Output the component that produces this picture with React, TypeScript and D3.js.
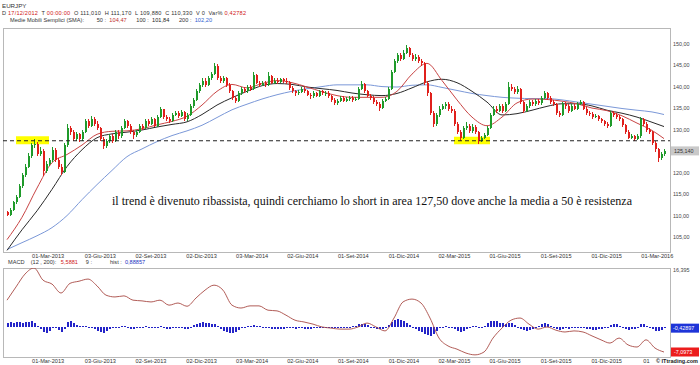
import React from "react";
import * as d3 from "d3";

// ---------- DATA ----------
const opens = [
  111.0,110.3,111.5,113.2,114.5,117,119.5,121.5,124,126.5,
  126.8,124.5,125.2,120.5,122.2,123,125.3,123,121.5,120.3,
  126.5,130.5,129.5,128,129,127.8,129.5,132,131,132.5,
  131.5,130.5,128,126.2,127.5,128.5,127.5,129.5,128.5,130.5,
  132,131,129.5,128.8,129.5,131,130.5,132,131.5,132.5,
  131,133,134.8,133,132.5,132,133.5,134,133.2,134.2,
  132.5,133.5,135.5,137,139,140.5,141.5,140.5,142,143,
  145,142,141.5,142,140.5,139,137.5,136.8,138.5,139.5,
  139,140,139.5,142.8,141,140.5,141,140.5,142.5,141,
  141.5,141.2,141.8,141.5,141.2,139.8,139,138.5,138.8,139.5,
  139,138.2,137.8,138.5,138,139,138.5,138.6,137.8,137,
  136.2,136.8,137.5,136.8,137.2,137.4,137,137.2,139.5,140.8,
  139,138,137.5,136.5,136,135.2,136.8,137.2,139.5,143.5,
  146,147.5,146.5,148,149,147.5,146.5,147,146,145.5,
  141,138.5,134,131.5,133.5,135,135.5,136,135,134.5,
  131.5,129.5,128.2,130.5,131,129.8,130.8,129.5,127.5,128.2,
  128.8,130.5,133.5,135,134.5,135.5,134.5,136,140,139.5,
  138.8,139.5,136.5,134.5,135.5,136.5,136,136.8,136.2,137.5,
  138.5,137.5,136.5,136,134,133.5,136,135.5,134.5,135.5,
  135,136,136.5,135,134,133.8,133,133.2,132.5,132,
  131.5,131,134,133.5,133,132.5,131.2,129.5,128.2,128.5,
  128,128.5,132.5,131.5,130,129.5,127,125.5,123.5,124.5
];
const highs = [
  111.2,111.8,113.6,115.0,117.4,120.0,122.0,124.6,127.0,128.0,
  127.2,126.0,125.6,122.8,123.6,126.0,125.8,123.4,122.0,127.0,
  131.3,131.0,130.0,129.6,129.4,130.0,132.6,132.5,133.2,133.0,
  132.0,130.8,128.4,128.0,129.0,129.0,130.0,130.0,131.0,132.5,
  132.4,131.4,130.0,130.0,131.5,131.5,132.5,132.5,133.0,132.8,
  133.5,135.3,135.0,133.5,133.0,134.0,134.5,134.4,134.7,134.5,
  134.0,136.0,137.5,139.5,141.0,142.0,142.0,142.5,143.5,145.6,
  145.3,142.5,142.5,142.3,141.0,139.4,138.0,139.0,140.0,140.0,
  140.5,140.4,143.6,143.0,141.5,141.5,141.4,143.5,142.8,142.0,
  142.0,142.2,142.2,142.0,141.5,140.2,139.4,139.2,140.0,140.0,
  139.4,138.6,139.0,138.9,139.4,139.4,139.0,139.0,138.2,137.4,
  137.2,137.9,137.9,137.6,137.8,137.8,137.6,140.0,141.5,141.0,
  139.4,138.4,137.9,137.0,136.4,137.2,137.7,140.0,144.0,146.6,
  148.0,148.0,148.6,149.8,149.3,148.0,147.6,147.4,146.5,145.8,
  141.4,138.8,134.4,134.0,135.5,136.0,136.5,136.4,135.5,134.8,
  131.8,130.0,131.0,131.8,131.4,131.4,131.2,129.8,128.7,129.3,
  131.0,134.0,135.6,135.5,136.0,136.0,136.5,141.2,140.6,140.0,
  140.2,139.8,136.8,136.0,137.0,137.0,137.3,137.2,138.0,139.0,
  138.9,137.9,137.0,136.3,134.5,136.5,136.5,136.0,136.0,136.0,
  136.5,137.0,136.8,135.4,134.5,134.2,133.7,133.6,132.9,132.4,
  131.9,134.5,134.5,134.0,133.4,132.9,131.5,129.9,129.0,128.9,
  129.0,133.0,132.9,131.9,130.4,129.8,127.4,125.9,125.0,125.6
];
const lows = [
  109.9,110.0,111.2,112.8,114.2,116.6,119.0,121.2,123.6,125.8,
  124.0,124.0,119.4,120.0,121.6,122.6,122.5,121.0,119.5,120.0,
  126.0,128.8,127.4,127.5,127.2,127.4,129.2,130.5,130.7,131.0,
  130.0,127.5,125.5,125.8,127.0,127.0,127.2,128.0,128.2,130.2,
  130.5,129.0,128.0,128.4,129.2,130.0,130.2,131.0,131.2,130.6,
  130.8,132.8,132.6,132.0,131.6,131.8,133.2,132.8,133.0,132.0,
  132.2,133.2,135.2,136.7,138.7,140.0,140.0,140.2,141.7,142.7,
  141.6,141.0,141.0,140.0,138.5,137.0,136.3,136.5,138.2,138.5,
  138.7,139.0,139.2,140.6,140.0,140.2,140.0,140.2,140.6,140.7,
  140.8,140.9,141.0,140.8,139.4,138.6,138.0,138.1,138.5,138.6,
  137.8,137.3,137.5,137.6,137.7,138.1,138.0,137.4,136.6,135.8,
  135.9,136.5,136.4,136.4,136.8,136.6,136.7,137.0,139.2,138.6,
  137.6,137.0,136.0,135.5,134.5,135.0,136.4,137.0,139.2,143.2,
  145.6,146.0,146.2,147.6,147.0,146.0,146.0,145.5,145.0,140.5,
  138.0,133.5,130.6,131.0,133.0,134.6,135.0,134.5,134.0,131.0,
  129.0,127.4,127.8,130.0,129.3,129.4,129.0,126.7,127.2,127.8,
  128.5,130.2,133.2,134.0,134.2,134.0,134.2,135.8,139.0,138.3,
  138.4,136.0,134.0,134.2,135.2,135.5,135.6,135.8,135.9,137.2,
  137.0,136.0,135.5,133.6,133.0,133.2,135.0,134.0,134.2,134.6,
  134.7,135.7,134.6,133.6,133.3,132.6,132.7,132.0,131.6,131.0,
  130.5,130.8,133.0,132.6,132.0,130.8,129.0,127.8,127.8,127.5,
  127.6,128.2,131.0,129.6,129.0,126.5,125.0,122.6,123.0,124.0
];
const closes = [
  110.3,111.5,113.2,114.5,117,119.5,121.5,124,126.5,126.8,
  124.5,125.2,120.5,122.2,123,125.3,123,121.5,120.3,126.5,
  130.5,129.5,128,129,127.8,129.5,132,131,132.5,131.5,
  130.5,128,126.2,127.5,128.5,127.5,129.5,128.5,130.5,132,
  131,129.5,128.8,129.5,131,130.5,132,131.5,132.5,131,
  133,134.8,133,132.5,132,133.5,134,133.2,134.2,132.5,
  133.5,135.5,137,139,140.5,141.5,140.5,142,143,145,
  142,141.5,142,140.5,139,137.5,136.8,138.5,139.5,139,
  140,139.5,142.8,141,140.5,141,140.5,142.5,141,141.5,
  141.2,141.8,141.5,141.2,139.8,139,138.5,138.8,139.5,139,
  138.2,137.8,138.5,138,139,138.5,138.6,137.8,137,136.2,
  136.8,137.5,136.8,137.2,137.4,137,137.2,139.5,140.8,139,
  138,137.5,136.5,136,135.2,136.8,137.2,139.5,143.5,146,
  147.5,146.5,148,149,147.5,146.5,147,146,145.5,141,
  138.5,134,131.5,133.5,135,135.5,136,135,134.5,131.5,
  129.5,128.2,130.5,131,129.8,130.8,129.5,127.5,128.2,128.8,
  130.5,133.5,135,134.5,135.5,134.5,136,140,139.5,138.8,
  139.5,136.5,134.5,135.5,136.5,136,136.8,136.2,137.5,138.5,
  137.5,136.5,136,134,133.5,136,135.5,134.5,135.5,135,
  136,136.5,135,134,133.8,133,133.2,132.5,132,131.5,
  131,134,133.5,133,132.5,131.2,129.5,128.2,128.5,128,
  128.5,132.5,131.5,130,129.5,127,125.5,123.5,124.5,125.14
];

const maIndex = [0,5,10,15,20,25,30,35,40,45,50,55,60,65,70,75,80,85,90,95,100,105,110,115,120,125,130,135,140,145,150,155,160,165,170,175,180,185,190,195,200,205,210,215,219];
const sma50 = [104.5,109.7,116.5,122.4,124.3,126.5,129.0,129.7,129.8,130.3,131.2,132.0,133.2,135.8,139.0,140.6,139.8,140.8,141.5,141.0,140.0,138.9,138.0,137.6,137.6,137.6,139.0,143.0,145.5,141.5,137.0,133.0,131.0,133.0,136.3,137.2,137.1,136.7,136.1,135.1,134.5,133.3,131.6,129.9,128.0];
const sma100 = [102.0,106.8,111.2,116.2,121.5,125.4,128.2,129.1,129.5,130.0,130.7,131.3,131.9,133.6,135.8,137.5,139.0,140.3,140.8,140.6,140.0,139.6,139.2,138.6,138.2,138.0,138.5,139.8,141.2,141.8,141.0,139.0,136.5,133.5,133.8,134.6,135.5,136.1,136.1,135.6,134.6,133.9,133.0,131.8,130.8];
const sma200 = [102.2,103.8,105.4,107.3,110.1,113.8,117.3,120.6,123.8,125.6,127.3,128.7,129.8,131.1,132.9,134.7,136.0,137.2,138.2,139.0,139.6,140.1,140.5,140.5,140.5,140.1,140.0,140.4,140.5,139.9,139.2,138.5,138.0,137.6,137.4,137.3,137.3,137.0,136.5,136.0,135.5,135.0,134.6,134.2,133.6];

const macdIndex = [0,3,6,9,12,15,18,21,24,27,30,33,36,39,42,45,48,51,54,57,60,63,66,69,72,75,78,81,84,87,90,93,96,99,102,105,108,111,114,117,120,123,126,129,132,135,138,141,144,147,150,153,156,159,162,165,168,171,174,177,180,183,186,189,192,195,198,201,204,207,210,213,216,219];
const macdLine = [
  7.4,11.1,14.7,16.4,13.0,11.9,9.4,12.1,12.7,13.3,
  11.4,8.8,8.3,8.6,7.4,7.2,6.9,7.4,6.0,6.6,
  5.7,8.0,10.2,11.6,10.2,6.0,5.2,5.8,5.8,4.6,
  4.4,3.2,1.8,1.3,0.7,-0.1,-0.4,-0.7,-0.7,-0.1,
  1.0,-0.1,-1.2,2.4,6.9,7.7,6.6,2.4,-3.2,-5.4,
  -6.3,-7.4,-7.9,-7.1,-3.2,-0.4,1.8,2.4,0.7,-0.7,
  -0.1,-1.0,-1.5,-1.2,-1.5,-2.6,-3.7,-4.6,-3.2,-5.1,
  -5.7,-3.7,-6.0,-7.0973
];
const macdHist = [
  1.1,1.2,1.0,1.2,1.3,1.0,1.2,1.4,1.5,0.9,
  0.2,-0.6,-1.4,-1.7,-1.2,-0.3,-0.2,-0.9,-1.4,-0.8,
  1.2,1.7,1.0,0.5,0.3,0.2,0.2,0.0,-0.3,-0.8,
  -1.3,-1.6,-1.7,-1.3,-0.8,-0.4,-0.2,-0.1,0.1,0.2,
  -0.3,-0.6,-0.7,-0.5,-0.3,-0.1,0.1,0.0,-0.2,-0.3,
  -0.1,0.2,-0.2,-0.6,-0.8,-0.4,-0.2,0.0,-0.3,-0.8,
  -0.7,-0.2,0.4,0.8,1.0,1.2,1.1,1.0,0.8,0.7,
  0.2,-0.6,-1.2,-1.5,-1.7,-1.8,-1.6,-1.0,-0.4,0.0,
  0.2,0.1,0.4,0.3,0.1,-0.2,-0.3,-0.4,-0.6,-0.7,
  -0.8,-0.8,-0.7,-0.5,-0.4,-0.5,-0.6,-0.5,-0.3,-0.6,
  -0.8,-0.7,-0.5,-0.3,-0.2,-0.3,-0.4,-0.5,-0.4,-0.3,
  -0.3,-0.2,-0.2,-0.1,0.0,0.1,0.3,0.6,0.8,0.7,
  0.4,0.0,-0.4,-0.7,-0.8,-0.6,-0.3,0.5,1.4,1.9,
  2.0,1.8,1.5,1.1,0.5,-0.2,-0.7,-1.2,-1.6,-2.0,
  -2.4,-2.6,-2.1,-1.2,-0.5,-0.1,0.1,0.0,-0.3,-0.8,
  -1.3,-1.5,-1.2,-0.6,-0.2,0.1,0.2,-0.2,-0.1,0.3,
  0.9,1.5,1.7,1.5,1.1,0.9,0.8,1.1,0.9,0.5,
  0.0,-0.6,-1.0,-1.1,-0.9,-0.6,-0.3,0.2,0.6,0.9,
  0.8,0.3,-0.3,-0.8,-1.0,-0.6,-0.4,-0.6,-0.5,-0.4,
  -0.3,-0.3,-0.5,-0.7,-0.8,-0.9,-0.9,-0.8,-0.6,-0.5,
  -0.3,0.4,0.8,0.6,0.1,-0.4,-0.8,-0.9,-0.8,-0.6,
  -0.2,0.6,0.8,0.3,-0.4,-0.8,-1.1,-1.2,-0.9,-0.43
];

const priceTicks = [105, 110, 115, 120, 130, 135, 140, 145, 150];
const priceTickLabels = ["105,00","110,00","115,00","120,00","130,00","135,00","140,00","145,00","150,00"];
const dateTicks = ["2013-03-01","2013-06-03","2013-09-02","2013-12-02","2014-03-03","2014-06-02","2014-09-01","2014-12-01","2015-03-02","2015-06-01","2015-09-01","2015-12-01","2016-03-01"];
const dateTickLabels = ["01-Mar-2013","03-Giu-2013","02-Set-2013","02-Dic-2013","03-Mar-2014","02-Giu-2014","01-Set-2014","01-Dic-2014","02-Mar-2015","01-Giu-2015","01-Set-2015","01-Dic-2015","01-Mar-2016"];
const lastPrice = 125.14;
const supportLevel = 127.5;
const zone1 = [3, 14];
const zone2 = [149, 161];
const macdTop = 16.395;
const macdLast = -7.0973;
const histLast = -0.42897;

const FONT = "'Liberation Sans', Arial, sans-serif";

export default function App() {
  const L = 3, R = 670, T1 = 28, B1 = 252, T2 = 268, B2 = 357;
  const n = closes.length;
  const xI = d3.scaleLinear().domain([0, n - 1]).range([7, 664]);
  const parse = d3.timeParse("%Y-%m-%d");
  const xT = d3.scaleTime().domain([new Date(2012, 11, 17), new Date(2016, 2, 13)]).range([7, 664]);
  const yP = d3.scaleLinear().domain([105, 150]).range([237.5, 44]);
  const yM = d3.scaleLinear().domain([macdLast, macdTop]).range([352, 268]);

  const maLine = (vals: number[]) =>
    d3.line<number>().x((_, i) => xI(maIndex[i])).y((v) => yP(v)).curve(d3.curveMonotoneX)(vals) || "";
  const macdPath =
    d3.line<number>().x((_, i) => xI(macdIndex[i])).y((v) => yM(v)).curve(d3.curveMonotoneX)(macdLine) || "";

  const up = "#1f9a2a";
  const down = "#e0201c";

  return (
    <svg width={700} height={365} style={{ position: "absolute", left: 0, top: 0, background: "#fff" }} fontFamily={FONT}>
      <defs>
        <clipPath id="cpMain"><rect x={L} y={T1} width={R - L} height={B1 - T1} /></clipPath>
        <clipPath id="cpMacd"><rect x={L} y={T2} width={R - L} height={B2 - T2} /></clipPath>
      </defs>
      <rect x={0} y={0} width={700} height={365} fill="#fff" />

      {/* Header */}
      <text x={2} y={7.5} fontSize={6.2} fill="#333">EURJPY</text>
      <text x={2} y={14.5} fontSize={5.6} fill="#333" xmlSpace="preserve" textLength={244} lengthAdjust="spacing">
        <tspan>D </tspan><tspan fill="#d02020">17/12/2012</tspan>
        <tspan>  T </tspan><tspan fill="#d02020">00:00:00</tspan>
        <tspan>  O </tspan><tspan>111,010</tspan>
        <tspan>  H </tspan><tspan>111,170</tspan>
        <tspan>  L </tspan><tspan>109,880</tspan>
        <tspan>  C </tspan><tspan>110,330</tspan>
        <tspan>  V </tspan><tspan>0</tspan>
        <tspan>  Var% </tspan><tspan fill="#d02020">0,42782</tspan>
      </text>
      <text x={10} y={21.5} fontSize={5.6} fill="#333" xmlSpace="preserve" textLength={202} lengthAdjust="spacing">
        <tspan>Medie Mobili Semplici (SMA):        50 :  </tspan><tspan fill="#c03030">104,47</tspan>
        <tspan>      100 :  </tspan><tspan fill="#222">101,84</tspan>
        <tspan>      200 :  </tspan><tspan fill="#3060d0">102,20</tspan>
      </text>

      {/* Main panel frame */}
      <rect x={L + 0.5} y={T1 + 0.5} width={R - L} height={B1 - T1} fill="none" stroke="#b8b8b8" strokeWidth={1} />

      <g clipPath="url(#cpMain)">
        {/* yellow zones */}
        <rect x={xI(zone1[0])} y={yP(supportLevel) - 4.5} width={xI(zone1[1]) - xI(zone1[0])} height={8} fill="#ffff00" />
        <rect x={xI(zone2[0])} y={yP(supportLevel) - 4} width={xI(zone2[1]) - xI(zone2[0])} height={7.5} fill="#ffff00" />

        {/* moving averages */}
        <path d={maLine(sma200)} fill="none" stroke="#7b98d8" strokeWidth={1} />
        <path d={maLine(sma100)} fill="none" stroke="#2a2a2a" strokeWidth={1} />
        <path d={maLine(sma50)} fill="none" stroke="#c84444" strokeWidth={1} />

        {/* candles */}
        <g shapeRendering="crispEdges">
          {closes.map((c, i) => {
            const o = opens[i];
            const col = c >= o ? up : down;
            const x = Math.round(xI(i));
            const yTop = yP(Math.max(o, c));
            const yBot = yP(Math.min(o, c));
            return (
              <g key={i}>
                <line x1={x + 0.5} x2={x + 0.5} y1={yP(highs[i])} y2={yP(lows[i])} stroke={col} strokeWidth={1} />
                <rect x={x} y={yTop} width={2} height={Math.max(1, yBot - yTop)} fill={col} />
              </g>
            );
          })}
        </g>

        {/* support line */}
        <line x1={L} x2={R} y1={yP(supportLevel)} y2={yP(supportLevel)} stroke="#222" strokeWidth={1} strokeDasharray="4,3" />
      </g>

      {/* annotation */}
      <text x={112} y={204.5} fontFamily="'Liberation Serif', 'Times New Roman', serif" fontSize={12.8} fill="#111" textLength={520} lengthAdjust="spacingAndGlyphs">
        il trend è divenuto ribassista, quindi cerchiamo lo short in area 127,50 dove anche la media a 50 è resistenza
      </text>

      {/* price axis */}
      {priceTicks.map((p, i) => (
        <text key={p} x={673} y={yP(p)} dy="0.35em" fontSize={5.4} fill="#444">{priceTickLabels[i]}</text>
      ))}
      <rect x={671} y={yP(lastPrice) - 4.5} width={28} height={9} fill="#c9c9c9" />
      <text x={674} y={yP(lastPrice)} dy="0.35em" fontSize={5.4} fill="#333">{d3.format(".3f")(lastPrice).replace(".", ",")}</text>

      {/* main date axis */}
      {dateTicks.map((d, i) => (
        <text key={d} x={xT(parse(d) as Date)} y={256.5} dy="0.35em" textAnchor="middle" fontSize={5.6} fill="#333">{dateTickLabels[i]}</text>
      ))}

      {/* MACD header */}
      <text x={8} y={263.5} fontSize={5.6} fill="#333" xmlSpace="preserve">
        <tspan>MACD    (12 , 200):   </tspan><tspan fill="#d02020">5,5881</tspan>
        <tspan>     9 :</tspan>
        <tspan x={110}>hist :  </tspan><tspan fill="#2030c0">0,88857</tspan>
      </text>

      {/* MACD panel */}
      <rect x={L + 0.5} y={T2 + 0.5} width={R - L} height={B2 - T2} fill="none" stroke="#b8b8b8" strokeWidth={1} />
      <g clipPath="url(#cpMacd)">
        <g shapeRendering="crispEdges">
          {macdHist.map((h, i) => {
            const x = Math.round(xI(i));
            const y0 = yM(0);
            const y1 = yM(h);
            return <rect key={i} x={x} y={Math.min(y0, y1)} width={2} height={Math.max(1, Math.abs(y1 - y0))} fill="#2424c8" />;
          })}
        </g>
        <path d={macdPath} fill="none" stroke="#a84a44" strokeWidth={0.9} />
      </g>
      <text x={673} y={270} dy="0.35em" fontSize={5.4} fill="#444">{"16,395"}</text>
      <rect x={671} y={yM(histLast) - 4.5} width={28} height={9} fill="#1e34d8" />
      <text x={673} y={yM(histLast)} dy="0.35em" fontSize={5.4} fill="#fff">{"-0,42897"}</text>
      <rect x={671} y={yM(macdLast) - 4.5} width={28} height={9} fill="#ec1c1c" />
      <text x={674} y={yM(macdLast)} dy="0.35em" fontSize={5.4} fill="#fff">{"-7,0973"}</text>

      {/* MACD date axis (last label partly covered by the copyright, as in the source) */}
      {dateTicks.slice(0, -1).map((d, i) => (
        <text key={"m" + d} x={xT(parse(d) as Date)} y={361} dy="0.35em" textAnchor="middle" fontSize={5.6} fill="#333">{dateTickLabels[i]}</text>
      ))}
      <text x={xT(parse(dateTicks[dateTicks.length - 1]) as Date) - 14} y={361} dy="0.35em" fontSize={5.6} fill="#333">{dateTickLabels[dateTickLabels.length - 1].slice(0, 2)}</text>
      <text x={656} y={361} dy="0.35em" fontSize={5.8} fontWeight="bold" fill="#222" textLength={42} lengthAdjust="spacingAndGlyphs">© ITtrading.com</text>
    </svg>
  );
}
